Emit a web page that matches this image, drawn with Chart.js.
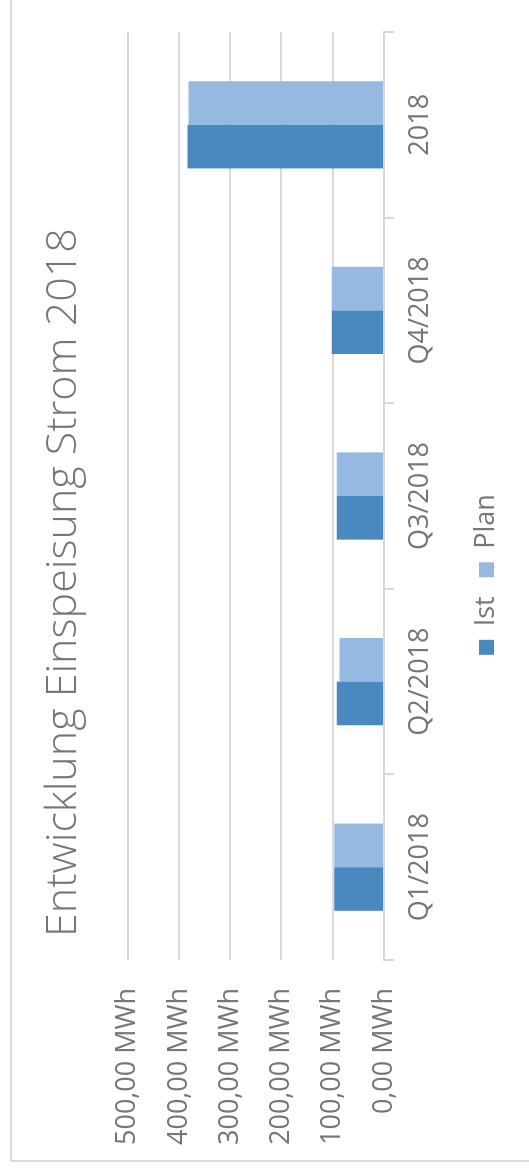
<!DOCTYPE html>
<html>
<head>
<meta charset="utf-8">
<script src="https://cdn.jsdelivr.net/npm/chart.js@4"></script>
<style>
  html, body { margin: 0; padding: 0; background: #ffffff; overflow: hidden; }
  #page { position: relative; width: 529px; height: 1173px; overflow: hidden; background: #fff; }
  #rot { position: absolute; left: 0; top: 0; width: 1173px; height: 529px;
         transform-origin: 0 0; transform: translateY(1173px) rotate(-90deg); }
  canvas { display: block; }
</style>
</head>
<body>
<div id="page"><div id="rot"><canvas id="c" width="1173" height="529"></canvas></div></div>
<script>
// ---- data ----
const categories = ['Q1/2018', 'Q2/2018', 'Q3/2018', 'Q4/2018', '2018'];
const istValues  = [97, 92, 92, 102, 383];
const planValues = [97, 87, 92, 102, 381];
const seriesNames = ['Ist', 'Plan'];
const yTickValues = [0, 100, 200, 300, 400, 500];
const titleText = 'Entwicklung Einspeisung Strom 2018';
const unitLabel = 'MWh';

// ---- style ----
const gridColor = '#d9d9d9';
const textColor = '#767676';
const istColor = '#4a89bf';
const planColor = '#95b9e0';

Chart.defaults.font.family = "'Open Sans', 'Noto Sans', sans-serif";
Chart.defaults.color = textColor;

const framePlugin = {
  id: 'frame',
  beforeDraw(chart) {
    const ctx = chart.ctx;
    ctx.save();
    ctx.strokeStyle = gridColor;
    ctx.lineWidth = 2;
    ctx.strokeRect(12, 11, chart.width + 20, chart.height + 20);
    ctx.restore();
  }
};

// nudge title / legend horizontally to match the reference centring
const shiftPlugin = {
  id: 'shift',
  afterLayout(chart) {
    if (chart.titleBlock) { chart.titleBlock.left += 10; chart.titleBlock.right += 10; }
    if (chart.legend) { chart.legend.left += 18; chart.legend.right += 18; }
  }
};

function fmt(v) {
  return v.toFixed(2).replace('.', ',') + ' ' + unitLabel;
}

new Chart(document.getElementById('c'), {
  type: 'bar',
  data: {
    labels: categories,
    datasets: [
      { label: seriesNames[0], data: istValues, backgroundColor: istColor,
        categoryPercentage: 0.47, barPercentage: 1.0 },
      { label: seriesNames[1], data: planValues, backgroundColor: planColor,
        categoryPercentage: 0.47, barPercentage: 1.0 }
    ]
  },
  options: {
    responsive: false,
    animation: false,
    devicePixelRatio: 1,
    layout: { padding: { left: 20, right: 32, top: 10, bottom: 19 } },
    plugins: {
      tooltip: { enabled: false },
      title: {
        display: true, text: titleText, color: textColor,
        font: { size: 43, weight: '300' },
        padding: { top: 28, bottom: 38 }
      },
      legend: {
        position: 'bottom',
        labels: {
          boxWidth: 15, boxHeight: 15, padding: 19,
          font: { size: 27 }, color: textColor
        }
      }
    },
    scales: {
      x: {
        afterFit(scale) { scale.height = 70; },
        grid: { offset: true, drawOnChartArea: false, drawTicks: true, tickLength: 10,
                color: gridColor, lineWidth: 2 },
        border: { color: gridColor, width: 2 },
        ticks: { font: { size: 27 }, padding: 10, color: textColor, maxRotation: 0 }
      },
      y: {
        min: yTickValues[0], max: yTickValues[yTickValues.length - 1],
        afterBuildTicks(scale) { scale.ticks = yTickValues.map(v => ({ value: v })); },
        afterFit(scale) { scale.width = 193; },
        grid: { color: gridColor, lineWidth: 2, drawTicks: false },
        border: { display: false },
        ticks: { font: { size: 27 }, padding: 28, color: textColor,
                 callback: (v) => fmt(v) }
      }
    }
  },
  plugins: [framePlugin, shiftPlugin]
});
</script>
</body>
</html>
